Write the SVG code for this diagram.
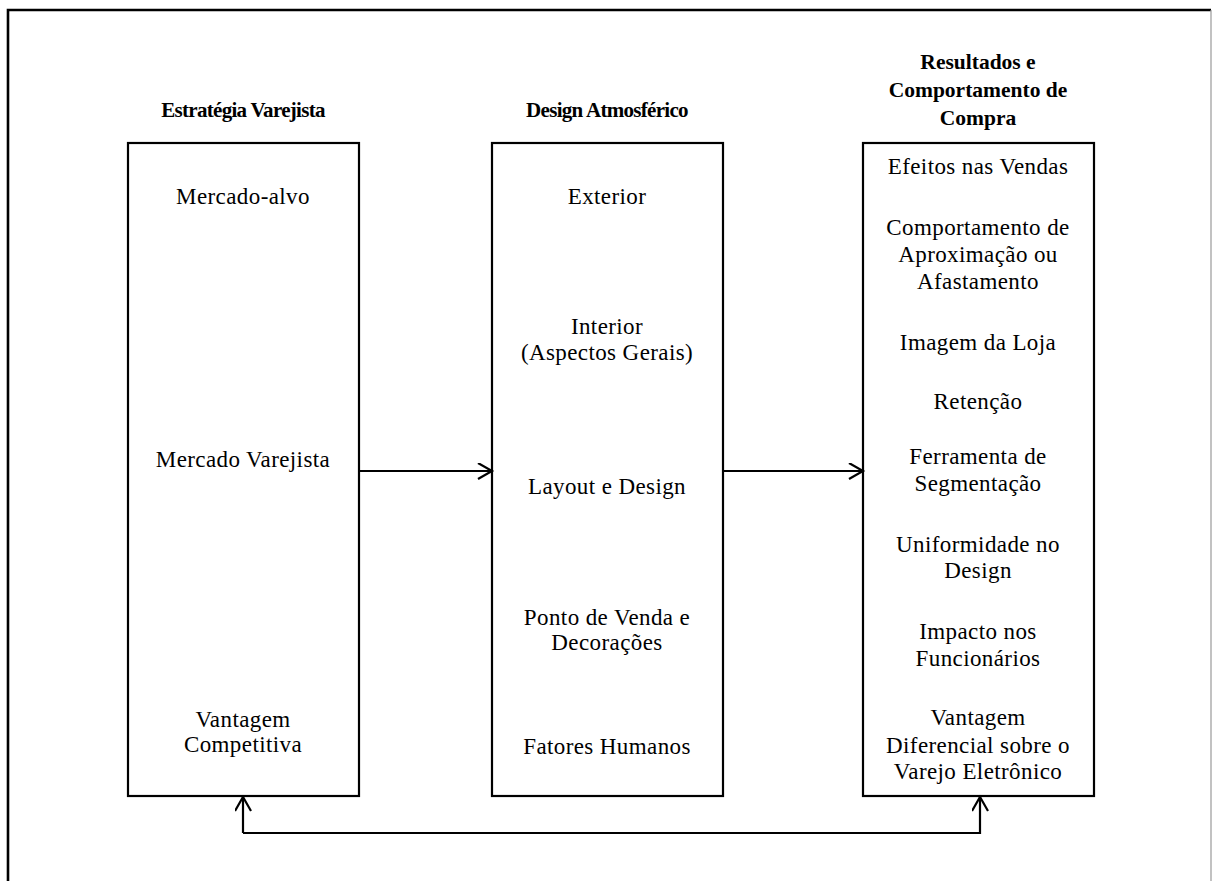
<svg xmlns="http://www.w3.org/2000/svg" width="1212" height="881" viewBox="0 0 1212 881">
<defs>
<style>
.box{fill:#fff;stroke:#000;stroke-width:2.2}
.t{font-family:"Liberation Serif","Times New Roman",serif;font-size:23px;letter-spacing:0.4px;text-anchor:middle;fill:#000}
.h{font-family:"Liberation Serif","Times New Roman",serif;font-size:21.5px;font-weight:bold;text-anchor:middle;fill:#000}
.hc{font-size:21px;letter-spacing:-0.7px}
.c{fill:none;stroke:#000;stroke-width:2.2}
</style>
<marker id="ah" markerWidth="20" markerHeight="20" refX="15" refY="8" orient="auto" markerUnits="userSpaceOnUse">
<path d="M1,0 L15,8 L1,16" fill="none" stroke="#000" stroke-width="2.2"/>
</marker>
</defs>
<rect width="1212" height="881" fill="#fff"/>
<path d="M8,890 L8,10 L1211,10" fill="none" stroke="#000" stroke-width="2.6"/>
<line x1="1211" y1="10" x2="1211" y2="881" stroke="#999" stroke-width="1.2"/>

<g id="estrategia">
<text class="h hc" x="243" y="117">Estratégia Varejista</text>
<rect class="box" x="128" y="143" width="231" height="653"/>
<text class="t" x="243" y="204">Mercado-alvo</text>
<text class="t" x="243" y="467">Mercado Varejista</text>
<text class="t" x="243" y="727">Vantagem</text>
<text class="t" x="243" y="752">Competitiva</text>
</g>

<g id="design">
<text class="h hc" x="607" y="117">Design Atmosférico</text>
<rect class="box" x="492" y="143" width="231" height="653"/>
<text class="t" x="607" y="204">Exterior</text>
<text class="t" x="607" y="334">Interior</text>
<text class="t" x="607" y="360">(Aspectos Gerais)</text>
<text class="t" x="607" y="494">Layout e Design</text>
<text class="t" x="607" y="625">Ponto de Venda e</text>
<text class="t" x="607" y="650">Decorações</text>
<text class="t" x="607" y="754">Fatores Humanos</text>
</g>

<g id="resultados">
<text class="h" x="978" y="69">Resultados e</text>
<text class="h" x="978" y="97">Comportamento de</text>
<text class="h" x="978" y="125">Compra</text>
<rect class="box" x="863" y="143" width="231" height="653"/>
<text class="t" x="978" y="174">Efeitos nas Vendas</text>
<text class="t" x="978" y="235">Comportamento de</text>
<text class="t" x="978" y="262">Aproximação ou</text>
<text class="t" x="978" y="289">Afastamento</text>
<text class="t" x="978" y="350">Imagem da Loja</text>
<text class="t" x="978" y="409">Retenção</text>
<text class="t" x="978" y="464">Ferramenta de</text>
<text class="t" x="978" y="491">Segmentação</text>
<text class="t" x="978" y="552">Uniformidade no</text>
<text class="t" x="978" y="578">Design</text>
<text class="t" x="978" y="639">Impacto nos</text>
<text class="t" x="978" y="666">Funcionários</text>
<text class="t" x="978" y="725">Vantagem</text>
<text class="t" x="978" y="753">Diferencial sobre o</text>
<text class="t" x="978" y="779">Varejo Eletrônico</text>
</g>

<g id="connectors">
<line class="c" x1="359" y1="471" x2="492" y2="471" marker-end="url(#ah)"/>
<line class="c" x1="723" y1="471" x2="863" y2="471" marker-end="url(#ah)"/>
<path class="c" d="M243,833 L243,797" marker-end="url(#ah)"/>
<path class="c" d="M243,833 L980,833 L980,797" marker-end="url(#ah)"/>
</g>
</svg>
